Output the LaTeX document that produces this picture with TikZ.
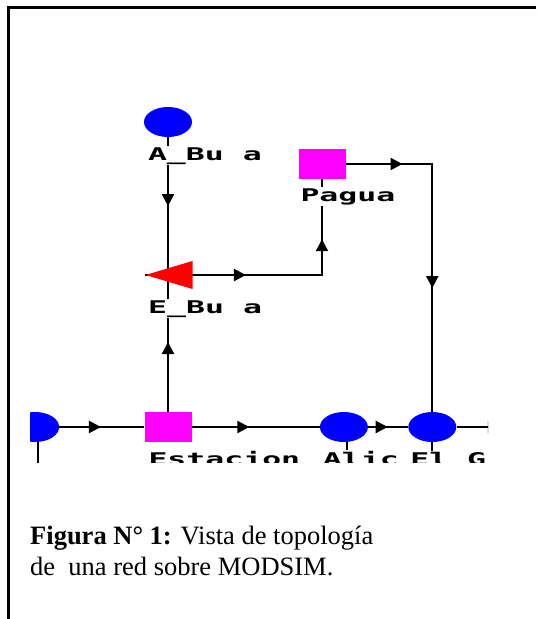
\documentclass[tikz,border=0pt]{standalone}
\usepackage{graphicx}
\usepackage{fontspec}
\setmainfont{Liberation Serif}
\newfontfamily\modsimfont{DejaVu Sans Mono}
\usetikzlibrary{arrows.meta,positioning,calc,backgrounds,shapes.geometric,decorations.markings}
\definecolor{demandpink}{RGB}{255,0,255}
\definecolor{nodeblue}{RGB}{0,0,255}
\definecolor{reservoirred}{RGB}{255,0,0}
\newcommand{\widelbl}[1]{\scalebox{1.8}[1]{#1}}
\tikzset{
  % Base styles
  modsim base/.style={
    x=1pt, y=-1pt,
    every node/.style={inner sep=0pt},
  },
  % MODSIM network nodes
  nonstorage node/.style={ellipse, fill=nodeblue, minimum width=48pt, minimum height=30pt},
  demand node/.style={rectangle, fill=demandpink, minimum width=47pt, minimum height=30pt},
  reservoir node/.style={isosceles triangle, isosceles triangle stretches, shape border rotate=180,
    fill=reservoirred, minimum width=28pt, minimum height=47pt},
  % Links with a flow arrow on the line
  link/.style={draw, line width=2.2pt, postaction={decorate},
    decoration={markings, mark=at position #1 with {\arrow{Triangle[length=12pt,width=12pt]}}}},
  link/.default=0.5,
  bent link/.style 2 args={draw, line width=2.2pt, postaction={decorate},
    decoration={markings,
      mark=at position #1 with {\arrow{Triangle[length=12pt,width=12pt]}},
      mark=at position #2 with {\arrow{Triangle[length=12pt,width=12pt]}}}},
  stub link/.style={draw, line width=2.2pt},
  % Labels
  node label/.style={anchor=base west, fill=white, inner sep=1pt,
    font=\modsimfont\bfseries\fontsize{17.5}{17.5}\selectfont},
  caption text/.style={anchor=base west, align=left, font=\fontsize{26.5}{31}\selectfont},
}

\begin{document}
\begin{tikzpicture}[modsim base]
\useasboundingbox (0,0) rectangle (536,619);

% Frame
\draw[line width=3pt] (536,7.5) -- (8.5,7.5) -- (8.5,619);

\begin{scope}
\clip (30,95) rectangle (488,462);
% Nodes
\node[nonstorage node] (Abu) at (168,122) {};
\node[reservoir node, anchor=apex] (Ebu) at (145,275) {};
\node[demand node] (Pagua) at (322,164) {};
\node[demand node] (Est) at (168,427) {};
\node[nonstorage node, right=128pt of Est] (Alic) {};
\node[nonstorage node, right=40pt of Alic] (ElG) {};
\node[nonstorage node, left=85pt of Est] (Izq) {};

% Free ends leaving the view
\coordinate (IzqOut) at ($(Izq)+(3,60)$);
\coordinate (AlicOut) at ($(Alic)+(3,60)$);
\coordinate (ElGOut) at ($(ElG)+(0,60)$);
\coordinate (ElGRight) at ($(ElG)+(88,0)$);

% Links
\begin{pgfonlayer}{background}
\begin{scope}
\clip (30,95) rectangle (488,462);
\draw[link] (Abu) -- (Abu |- Ebu.apex);
\draw[bent link={0.37}{0.78}] (Ebu.apex) -| (Pagua);
\draw[bent link={0.17}{0.63}] (Pagua) -| (ElG);
\draw[link=0.51] (Est) -- (Est |- Ebu.apex);
\draw[link=0.49] (Izq) -- (Est);
\draw[link=0.45] (Est) -- (Alic);
\draw[link=0.49] (Alic) -- (ElG);
\draw[link=0.68] (ElG) -- (ElGRight);
\draw[stub link] (Izq.center) ++(3,0) -- (IzqOut);
\draw[stub link] (Alic.center) ++(3,0) -- (AlicOut);
\draw[stub link] (ElG) -- (ElGOut);
\end{scope}
\end{pgfonlayer}

% Labels
\node[node label] (Abu-lbl) at ($(Abu.west |- Abu.south)+(3,23)$) {\widelbl{A\_Bu a}};
\node[node label] (Ebu-lbl) at ($(Ebu.apex)+(2,38)$) {\widelbl{E\_Bu a}};
\node[node label] (Pagua-lbl) at ($(Pagua.south west)+(1,22)$) {\widelbl{Pagua}};
\node[node label] (Est-lbl) at ($(Est.south west)+(3,23)$) {\widelbl{Estacion}};
\node[node label] (Alic-lbl) at ($(Alic.west |- Alic.south)+(2,23)$) {\widelbl{Alic}};
\node[node label] (ElG-lbl) at ($(ElG.west |- ElG.south)+(1,23)$) {\widelbl{El G}};
\end{scope}

% Caption
\node[caption text] (caption) at (30,575) {\textbf{Figura N° 1:} Vista de topología\\de\ \ una red sobre MODSIM.};
\end{tikzpicture}
\end{document}
